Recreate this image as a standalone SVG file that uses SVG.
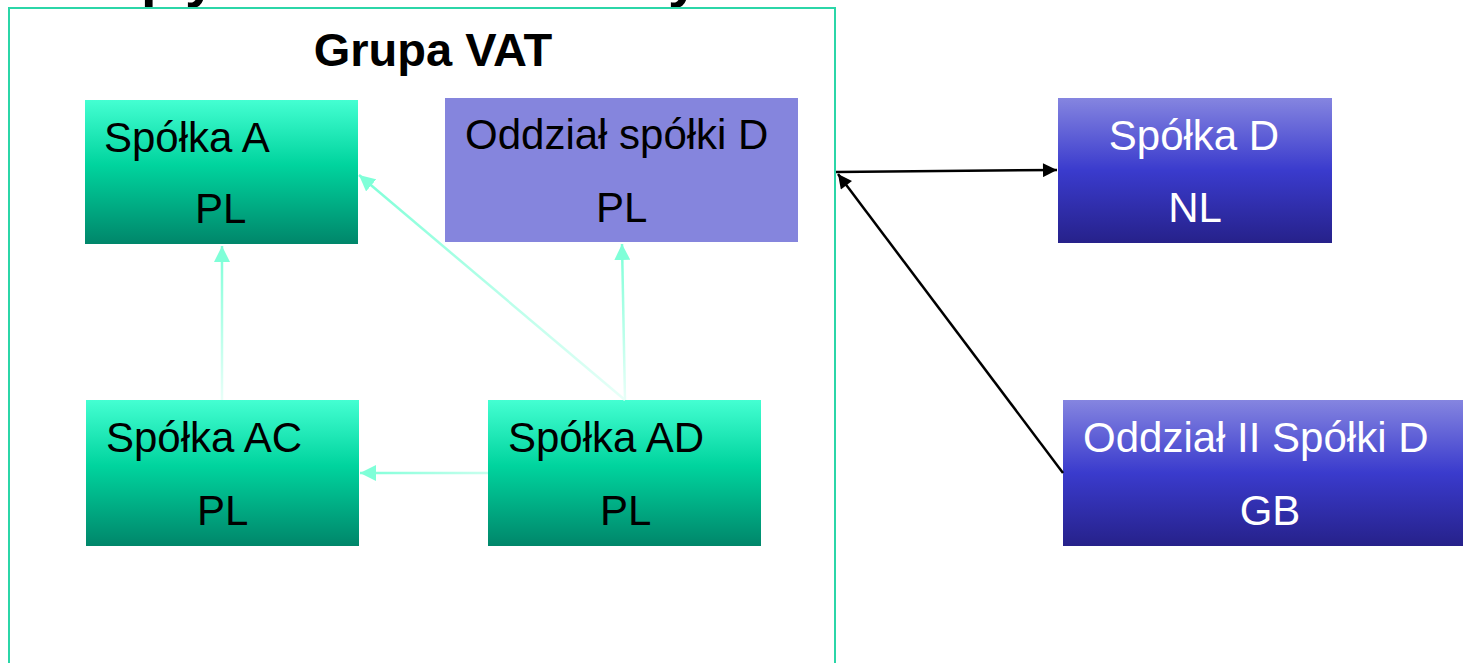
<svg xmlns="http://www.w3.org/2000/svg" width="1463" height="663" viewBox="0 0 1463 663">
<style>
text{font-family:"Liberation Sans",Arial,sans-serif}
.t{font-size:42px;fill:#000}
.w{font-size:42px;fill:#fff}
.title{font-size:47px;font-weight:bold;fill:#000}
.frag{font-size:56px;font-weight:bold;fill:#000}
.aq{stroke-width:2.5;fill:none}
.bk{stroke:#000;stroke-width:2.5;fill:none}
</style>
<defs>
<linearGradient id="gGreen" x1="0" y1="0" x2="0" y2="1">
<stop offset="0" stop-color="#44FFD2"/>
<stop offset="0.45" stop-color="#00D49E"/>
<stop offset="1" stop-color="#00866A"/>
</linearGradient>
<linearGradient id="gBlue" x1="0" y1="0" x2="0" y2="1">
<stop offset="0" stop-color="#8585E0"/>
<stop offset="0.5" stop-color="#3A3BCD"/>
<stop offset="1" stop-color="#26218A"/>
</linearGradient>
<linearGradient id="l1" gradientUnits="userSpaceOnUse" x1="222" y1="400" x2="222" y2="250"><stop offset="0" stop-color="#E8FFF8"/><stop offset="1" stop-color="#7FFFD8"/></linearGradient>
<linearGradient id="l2" gradientUnits="userSpaceOnUse" x1="625" y1="400" x2="362" y2="178"><stop offset="0" stop-color="#E8FFF8"/><stop offset="1" stop-color="#7FFFD8"/></linearGradient>
<linearGradient id="l3" gradientUnits="userSpaceOnUse" x1="625" y1="400" x2="622" y2="250"><stop offset="0" stop-color="#E8FFF8"/><stop offset="1" stop-color="#7FFFD8"/></linearGradient>
<linearGradient id="l4" gradientUnits="userSpaceOnUse" x1="488" y1="473" x2="362" y2="473"><stop offset="0" stop-color="#C8FFEE"/><stop offset="1" stop-color="#7FFFD8"/></linearGradient>
<marker id="ma" viewBox="0 0 10 10" refX="10" refY="5" markerWidth="6.4" markerHeight="6.4" markerUnits="strokeWidth" orient="auto">
<path d="M0,0 L10,5 L0,10 z" fill="#7FFFD8"/>
</marker>
<marker id="mb" viewBox="0 0 10 10" refX="10" refY="5" markerWidth="6.4" markerHeight="5.6" markerUnits="strokeWidth" orient="auto">
<path d="M0,0 L10,5 L0,10 z" fill="#000"/>
</marker>
</defs>
<rect width="1463" height="663" fill="#fff"/>
<g id="title-fragments">
<text class="frag" x="141" y="-4">p</text>
<text class="frag" x="185" y="-4">y</text>
<text class="frag" x="668" y="-4">y</text>
</g>
<g id="grupa-vat">
<rect x="9" y="8" width="826" height="680" fill="none" stroke="#2BD6A8" stroke-width="2"/>
<text class="title" x="433" y="66" text-anchor="middle">Grupa VAT</text>
</g>
<g id="spolka-a">
<rect x="85" y="100" width="273" height="144" fill="url(#gGreen)"/>
<text class="t" x="104" y="152">Spółka A</text>
<text class="t" x="195" y="223">PL</text>
</g>
<g id="oddzial-spolki-d">
<rect x="445" y="98" width="353" height="144" fill="#8585DD"/>
<text class="t" x="465" y="149">Oddział spółki D</text>
<text class="t" x="596" y="222">PL</text>
</g>
<g id="spolka-ac">
<rect x="86" y="400" width="273" height="146" fill="url(#gGreen)"/>
<text class="t" x="106" y="452">Spółka AC</text>
<text class="t" x="197" y="525">PL</text>
</g>
<g id="spolka-ad">
<rect x="488" y="400" width="273" height="146" fill="url(#gGreen)"/>
<text class="t" x="508" y="452">Spółka AD</text>
<text class="t" x="600" y="525">PL</text>
</g>
<g id="spolka-d">
<rect x="1058" y="98" width="274" height="145" fill="url(#gBlue)"/>
<text class="w" x="1194" y="150" text-anchor="middle">Spółka D</text>
<text class="w" x="1195" y="222" text-anchor="middle">NL</text>
</g>
<g id="oddzial-ii-spolki-d">
<rect x="1063" y="400" width="400" height="146" fill="url(#gBlue)"/>
<text class="w" x="1083" y="452">Oddział II Spółki D</text>
<text class="w" x="1270" y="525" text-anchor="middle">GB</text>
</g>
<g id="connectors">
<line class="aq" stroke="url(#l1)" x1="222" y1="400" x2="222" y2="246" marker-end="url(#ma)"/>
<line class="aq" stroke="url(#l2)" x1="625" y1="400" x2="359" y2="175" marker-end="url(#ma)"/>
<line class="aq" stroke="url(#l3)" x1="625" y1="400" x2="622" y2="244" marker-end="url(#ma)"/>
<line class="aq" stroke="url(#l4)" x1="488" y1="473" x2="360" y2="473" marker-end="url(#ma)"/>
<line class="bk" x1="836" y1="172" x2="1057" y2="170" marker-end="url(#mb)"/>
<line class="bk" x1="1063" y1="473" x2="838" y2="174" marker-end="url(#mb)"/>
</g>
</svg>
